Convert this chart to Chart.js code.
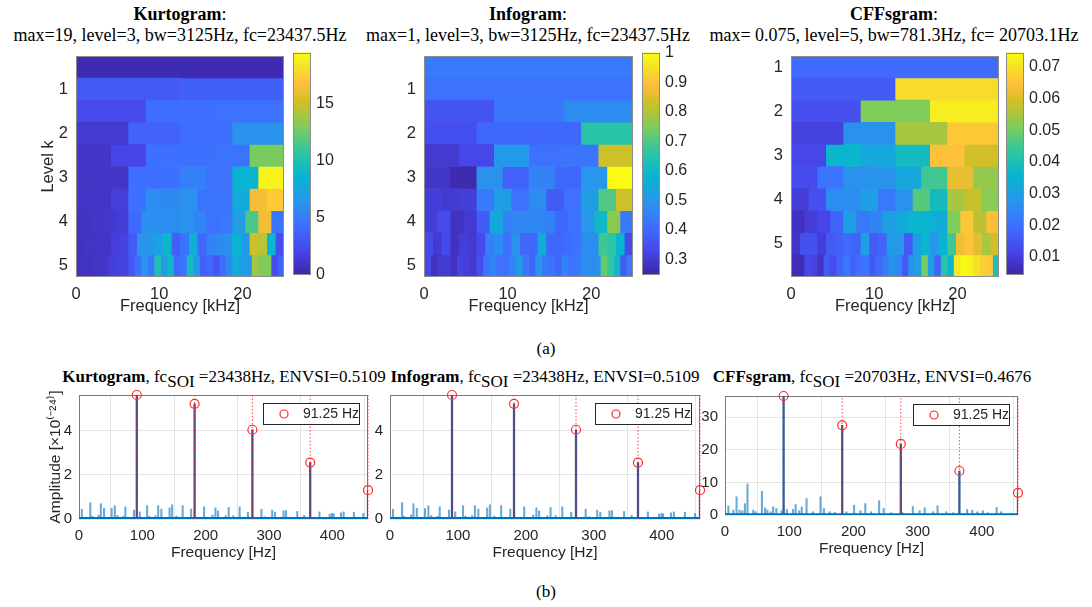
<!DOCTYPE html>
<html>
<head>
<meta charset="utf-8">
<script src="https://cdn.jsdelivr.net/npm/chart.js@4.4.0/dist/chart.umd.min.js"></script>
<style>
body { margin: 0; background: #fff; width: 1092px; height: 607px; position: relative; overflow: hidden; }
.cv { position: absolute; }
.ttl { position: absolute; font-family: "Liberation Serif", "Times New Roman", serif; color: #000;
       text-align: center; white-space: nowrap; transform: translateX(-50%); }
.sub { position: relative; top: 5px; }
</style>
</head>
<body>

<div class="ttl" style="left:180px;top:4px;font-size:18px;line-height:21px"><b>Kurtogram</b>:<br>max=19, level=3, bw=3125Hz, fc=23437.5Hz</div>
<div class="ttl" style="left:528px;top:4px;font-size:18px;line-height:21px"><b>Infogram</b>:<br>max=1, level=3, bw=3125Hz, fc=23437.5Hz</div>
<div class="ttl" style="left:894px;top:4px;font-size:18px;line-height:21px"><b>CFFsgram</b>:<br>max= 0.075, level=5, bw=781.3Hz, fc= 20703.1Hz</div>
<div class="ttl" style="left:546px;top:339px;font-size:17px">(a)</div>

<div class="ttl" style="left:224px;top:367px;font-size:17px"><b>Kurtogram</b>, fc<span class="sub">SOI</span> =23438Hz, ENVSI=0.5109</div>
<div class="ttl" style="left:545px;top:367px;font-size:17px"><b>Infogram</b>, fc<span class="sub">SOI</span> =23438Hz, ENVSI=0.5109</div>
<div class="ttl" style="left:872px;top:367px;font-size:17px"><b>CFFsgram</b>, fc<span class="sub">SOI</span> =20703Hz, ENVSI=0.4676</div>
<div class="ttl" style="left:546px;top:582px;font-size:17px">(b)</div>

<script>
// ---- (a) kurtogram-type maps: one array per row, bands split 0..25 kHz evenly ----
const freqMaxKHz = 25;
const freqTicksKHz = [0, 10, 20];
const kurtLevelTicks = ['', '1', '', '2', '', '3', '', '4', '', '5'];
const cffLevelTicks = ['1', '', '2', '', '3', '', '4', '', '5', ''];

const kurtValues = [
    [0.3],
    [3.2, 3.5],
    [2.3, 4.3, 4.5],
    [1.3, 3.7, 4.2, 6.3],
    [1.0, 2.0, 4.4, 4.4, 4.6, 12.8],
    [0.9, 1.0, 4.3, 4.4, 5.3, 4.5, 8.6, 19.0],
    [0.9, 1.0, 1.6, 4.4, 6.0, 5.8, 6.2, 4.6, 4.6, 7.9, 16.4, 17.2],
    [0.8, 1.0, 1.2, 1.5, 4.0, 6.1, 6.1, 6.0, 6.2, 5.6, 4.5, 4.8, 7.0, 11.5, 16.4, 4.6],
    [0.8, 0.9, 1.0, 1.0, 1.6, 1.9, 3.3, 6.3, 6.6, 7.3, 8.9, 3.5, 4.6, 8.3, 4.0, 5.2, 5.9, 6.1, 8.6, 6.8, 15.0, 14.5, 8.7, 2.5],
    [0.7, 0.8, 0.8, 0.9, 1.0, 1.6, 1.8, 1.9, 3.0, 4.4, 6.5, 4.8, 10.0, 7.0, 9.0, 4.0, 4.6, 9.4, 6.8, 3.5, 4.0, 3.0, 4.3, 5.9, 8.0, 7.2, 6.8, 14.0, 13.0, 13.0, 2.5, 3.6]
];
const kurtRange = [0, 19.5];
const kurtCbarTicks = [0, 5, 10, 15];

const infoValues = [
    [0.44],
    [0.42, 0.42],
    [0.36, 0.43, 0.48],
    [0.35, 0.40, 0.40, 0.65],
    [0.30, 0.33, 0.51, 0.42, 0.43, 0.83],
    [0.29, 0.26, 0.49, 0.39, 0.46, 0.40, 0.50, 1.0],
    [0.31, 0.30, 0.31, 0.44, 0.52, 0.42, 0.48, 0.38, 0.42, 0.52, 0.70, 0.83],
    [0.31, 0.34, 0.28, 0.30, 0.38, 0.55, 0.46, 0.47, 0.47, 0.46, 0.40, 0.42, 0.50, 0.60, 0.76, 0.44],
    [0.34, 0.30, 0.34, 0.28, 0.31, 0.30, 0.34, 0.45, 0.48, 0.42, 0.49, 0.40, 0.40, 0.55, 0.40, 0.40, 0.41, 0.43, 0.48, 0.48, 0.68, 0.66, 0.58, 0.34],
    [0.33, 0.28, 0.30, 0.30, 0.28, 0.32, 0.31, 0.30, 0.35, 0.42, 0.46, 0.42, 0.42, 0.46, 0.52, 0.44, 0.40, 0.50, 0.44, 0.42, 0.40, 0.46, 0.42, 0.44, 0.48, 0.48, 0.49, 0.72, 0.67, 0.60, 0.38, 0.44]
];
const infoRange = [0.25, 1.0];
const infoCbarTicks = [0.3, 0.4, 0.5, 0.6, 0.7, 0.8, 0.9, 1];

const cffValues = [
    [0.019],
    [0.016, 0.069],
    [0.014, 0.051, 0.072],
    [0.011, 0.027, 0.055, 0.066],
    [0.012, 0.036, 0.032, 0.038, 0.065, 0.059],
    [0.013, 0.021, 0.027, 0.027, 0.032, 0.045, 0.062, 0.053],
    [0.010, 0.014, 0.026, 0.026, 0.030, 0.022, 0.027, 0.047, 0.038, 0.055, 0.058, 0.052],
    [0.007, 0.010, 0.012, 0.018, 0.030, 0.022, 0.024, 0.030, 0.033, 0.036, 0.035, 0.033, 0.051, 0.066, 0.057, 0.064],
    [0.008, 0.014, 0.014, 0.010, 0.016, 0.017, 0.019, 0.018, 0.030, 0.016, 0.018, 0.029, 0.028, 0.016, 0.030, 0.036, 0.028, 0.035, 0.045, 0.063, 0.065, 0.061, 0.055, 0.059],
    [0.006, 0.006, 0.012, 0.011, 0.008, 0.016, 0.013, 0.018, 0.022, 0.018, 0.020, 0.021, 0.016, 0.019, 0.023, 0.027, 0.025, 0.016, 0.027, 0.030, 0.050, 0.030, 0.018, 0.042, 0.036, 0.071, 0.0745, 0.073, 0.070, 0.067, 0.066, 0.040]
];
const cffRange = [0.0045, 0.0745];
const cffCbarTicks = [0.01, 0.02, 0.03, 0.04, 0.05, 0.06, 0.07];

// ---- (b) envelope spectra ----
const harmFreq = [91.25, 182.5, 273.75, 365, 456.25];
const kurtHarmAmp = [5.6, 5.2, 4.03, 2.55, 1.3];
const cffHarmAmp = [36.5, 27.5, 21.8, 13.5, 6.8];

const kurtSpecFreq = [4.5, 17.8, 21, 31, 34.5, 39.5, 51.5, 56.5, 60.7, 70, 73.2, 86.8, 96, 107.5, 111, 120.8, 125, 130, 143, 147, 153.7, 163.6, 177,
    197.5, 210.7, 215.4, 219.5, 231.6, 236.3, 243.7, 253.6, 266.7, 288, 293, 305, 309.5, 323, 326.8, 344.6, 355.6, 379.6, 395.8, 399.5, 402, 413.6, 417.8, 434, 449];
const kurtSpecAmp = [0.44, 0.74, 0.13, 0.18, 0.69, 0.48, 0.48, 0.6, 0.16, 0.13, 0.55, 0.4, 0.32, 0.6, 0.13, 0.15, 0.6, 0.45, 0.5, 0.64, 0.13, 0.6, 0.45,
    0.55, 0.18, 0.5, 0.36, 0.15, 0.52, 0.15, 0.55, 0.3, 0.44, 0.1, 0.4, 0.31, 0.37, 0.38, 0.34, 0.16, 0.32, 0.22, 0.25, 0.23, 0.28, 0.32, 0.31, 0.25];

const cffSpecFreq = [5.2, 13, 18, 22.7, 27, 31, 35, 44, 47.7, 57.5, 62.5, 66, 71, 75, 80, 88, 96.4, 106, 110, 115.5, 119.5, 127, 137, 148.7, 154, 163, 171,
    189, 201, 211, 218.5, 227.5, 240, 247, 259, 277, 292.5, 303, 311, 324, 331, 344.5, 355, 377, 385, 393, 401.5, 409, 423, 430, 445.6];
const cffSpecAmp = [2.8, 1.5, 5.6, 1.5, 1.3, 3.5, 9.5, 1.5, 1.0, 7.3, 2.2, 1.5, 1.0, 2.5, 2.0, 1.3, 1.7, 1.7, 3.2, 1.3, 2.5, 5.0, 1.0, 5.6, 2.0, 1.0, 0.8,
    1.0, 3.0, 1.3, 3.5, 1.0, 4.4, 2.0, 0.7, 0.7, 2.6, 1.3, 2.2, 1.0, 2.8, 1.0, 0.7, 1.7, 1.5, 1.0, 1.3, 0.7, 2.3, 1.0, 0.5];

const specFreqTicks = [0, 100, 200, 300, 400];
const kurtAmpTicks = [0, 2, 4];
const cffAmpTicks = [0, 10, 20, 30];

// ---- look ----
Chart.defaults.font.family = '"Liberation Sans", Arial, sans-serif';
Chart.defaults.color = '#262626';
const AXIS_GREY = '#8c8c8c';

const parulaStops = [
    [0.000, [62, 38, 168]], [0.111, [71, 71, 235]], [0.222, [62, 111, 255]], [0.333, [39, 150, 235]],
    [0.444, [8, 181, 208]], [0.556, [49, 198, 159]], [0.667, [129, 204, 89]], [0.778, [209, 191, 39]],
    [0.857, [254, 190, 60]], [0.937, [245, 227, 39]], [1.000, [249, 251, 21]]
];

function parula(t) {
    t = Math.max(0, Math.min(1, t));
    for (let i = 1; i < parulaStops.length; i++) {
        if (t <= parulaStops[i][0]) {
            const [t0, c0] = parulaStops[i - 1];
            const [t1, c1] = parulaStops[i];
            const f = (t - t0) / (t1 - t0);
            return 'rgb(' + c0.map((c, k) => Math.round(c + (c1[k] - c) * f)).join(',') + ')';
        }
    }
    return 'rgb(249,251,21)';
}

function place(left, top, width, height) {
    const c = document.createElement('canvas');
    c.className = 'cv';
    c.width = width; c.height = height;
    c.style.left = left + 'px'; c.style.top = top + 'px';
    document.body.appendChild(c);
    return c;
}

const framePlugin = {
    id: 'frame',
    beforeDatasetsDraw(chart, args, opts) { if (opts.under) drawFrame(chart, opts); },
    afterDraw(chart, args, opts) { if (!opts.under) drawFrame(chart, opts); }
};
function drawFrame(chart, opts) {
    const a = chart.chartArea, ctx = chart.ctx;
    ctx.save();
    ctx.strokeStyle = opts.color || AXIS_GREY;
    ctx.lineWidth = 1;
    ctx.strokeRect(Math.round(a.left) + 0.5, Math.round(a.top) + 0.5, Math.round(a.right - a.left) - 1, Math.round(a.bottom - a.top) - 1);
    ctx.restore();
}

const gradientPlugin = {
    id: 'cbar',
    beforeDatasetsDraw(chart) {
        const a = chart.chartArea, ctx = chart.ctx;
        const g = ctx.createLinearGradient(0, a.bottom, 0, a.top);
        parulaStops.forEach(s => g.addColorStop(s[0], 'rgb(' + s[1].join(',') + ')'));
        ctx.save();
        ctx.fillStyle = g;
        ctx.fillRect(a.left, a.top, a.right - a.left, a.bottom - a.top);
        ctx.restore();
    }
};

const legendBox = {
    id: 'legendBox',
    afterDraw(chart) {
        const ds = chart.data.datasets.find(d => d.label === '91.25 Hz');
        const a = chart.chartArea, ctx = chart.ctx;
        const w = 96, h = 21, x = Math.round(a.right - 9 - w), y = Math.round(a.top + 8);
        ctx.save();
        ctx.fillStyle = '#fff';
        ctx.fillRect(x, y, w, h);
        ctx.strokeStyle = '#262626';
        ctx.lineWidth = 1;
        ctx.strokeRect(x + 0.5, y + 0.5, w, h);
        ctx.beginPath();
        ctx.arc(x + 21, y + h / 2 + 0.5, 4, 0, 2 * Math.PI);
        ctx.strokeStyle = ds.borderColor;
        ctx.lineWidth = 1.2;
        ctx.stroke();
        ctx.fillStyle = '#262626';
        ctx.font = '14px "Liberation Sans", Arial, sans-serif';
        ctx.textBaseline = 'middle';
        ctx.fillText(ds.label, x + 40, y + h / 2 + 1);
        ctx.restore();
    }
};

function setTicks(list) {
    return scale => { scale.ticks = list.map(v => ({ value: v })); };
}

// area = chart area in page pixels [left, top, right, bottom]
function heatmap(area, rows, range, levelTicks, yTitle) {
    const yw = yTitle ? 41 : 24, pt = 12, pr = 4, xh = 43;
    const [L, T, R, B] = area;
    const canvas = place(L - yw, T - pt, R - L + yw + pr, B - T + pt + xh);
    const nMax = Math.max(...rows.map(r => r.length));
    const datasets = [];
    for (let j = 0; j < nMax; j++) {
        datasets.push({
            data: rows.map(r => j < r.length ? [j * freqMaxKHz / r.length, (j + 1) * freqMaxKHz / r.length] : null),
            backgroundColor: rows.map(r => j < r.length ? parula((r[j] - range[0]) / (range[1] - range[0])) : 'rgba(0,0,0,0)'),
            borderWidth: 0,
            barPercentage: 1,
            categoryPercentage: 1,
            grouped: false
        });
    }
    new Chart(canvas, {
        type: 'bar',
        data: { labels: levelTicks, datasets: datasets },
        options: {
            indexAxis: 'y', responsive: false, animation: false, events: [],
            layout: { padding: { top: pt, right: pr, left: 0, bottom: 0 } },
            plugins: { legend: { display: false }, tooltip: { enabled: false }, frame: { color: AXIS_GREY } },
            scales: {
                x: {
                    type: 'linear', min: 0, max: freqMaxKHz,
                    afterBuildTicks: setTicks(freqTicksKHz),
                    afterFit: s => { s.height = xh; },
                    grid: { display: false, drawTicks: false },
                    border: { display: false },
                    ticks: { font: { size: 16.5 }, padding: 8 },
                    title: { display: true, text: 'Frequency [kHz]', font: { size: 16.5 } }
                },
                y: {
                    afterFit: s => { s.width = yw; },
                    grid: { display: false, drawTicks: false },
                    border: { display: false },
                    ticks: { font: { size: 16.5 }, padding: 8, autoSkip: false },
                    title: { display: !!yTitle, text: yTitle || '', font: { size: 16.5 } }
                }
            }
        },
        plugins: [framePlugin]
    });
}

function colorbar(area, range, ticks) {
    const [L, T, R, B] = area;
    const yw = 48, pad = 12;
    const canvas = place(L, T - pad, R - L + yw, B - T + 2 * pad);
    new Chart(canvas, {
        type: 'scatter',
        data: { datasets: [] },
        options: {
            responsive: false, animation: false, events: [],
            layout: { padding: { top: pad, bottom: pad, left: 0, right: 0 } },
            plugins: { legend: { display: false }, tooltip: { enabled: false }, frame: { color: AXIS_GREY } },
            scales: {
                x: { display: false },
                y: {
                    position: 'right', min: range[0], max: range[1],
                    afterBuildTicks: setTicks(ticks),
                    afterFit: s => { s.width = yw; },
                    grid: { display: false, drawTicks: false },
                    border: { display: false },
                    ticks: { font: { size: 16 }, padding: 5, callback: v => String(v) }
                }
            }
        },
        plugins: [gradientPlugin, framePlugin]
    });
}

function spectrum(area, freqs, amps, harmAmps, yMax, yTicks, floorLevel, yTitle) {
    const [L, T, R, B] = area;
    const yw = yTitle ? 37 : 26, pt = 12, pr = 12, xh = 47;
    const canvas = place(L - yw, T - pt, R - L + yw + pr, B - T + pt + xh);
    const guides = [];
    harmFreq.forEach(f => { guides.push({ x: f, y: 0 }, { x: f, y: yMax }, { x: f, y: null }); });
    new Chart(canvas, {
        type: 'bar',
        data: {
            datasets: [
                {
                    type: 'line', label: 'floor',
                    data: [{ x: 0, y: floorLevel }, { x: harmFreq[harmFreq.length - 1], y: floorLevel }],
                    borderColor: '#0072bd', borderWidth: 2, pointRadius: 0, order: 4
                },
                {
                    type: 'bar', label: 'spectrum',
                    data: freqs.map((f, i) => ({ x: f, y: amps[i] })),
                    backgroundColor: 'rgba(0,114,189,0.6)', barThickness: 1.4, grouped: false, order: 3
                },
                {
                    type: 'bar', label: 'harmonics',
                    data: harmFreq.map((f, i) => ({ x: f, y: harmAmps[i] })),
                    backgroundColor: '#2a5599', barThickness: 1.6, grouped: false, order: 2
                },
                {
                    type: 'line', label: 'guides', data: guides,
                    borderColor: 'rgba(255,40,40,0.85)', borderWidth: 1, borderDash: [1.5, 2],
                    pointRadius: 0, spanGaps: false, clip: false, order: 1
                },
                {
                    type: 'scatter', label: '91.25 Hz',
                    data: harmFreq.map((f, i) => ({ x: f, y: harmAmps[i] })),
                    pointStyle: 'circle', pointRadius: 4.5, borderColor: '#ff2a2a', backgroundColor: 'rgba(0,0,0,0)',
                    borderWidth: 1.2, clip: false, order: 0
                }
            ]
        },
        options: {
            responsive: false, animation: false, events: [],
            layout: { padding: { top: pt, right: pr, left: 0, bottom: 0 } },
            plugins: { legend: { display: false }, tooltip: { enabled: false }, frame: { color: '#7a7a7a', under: true } },
            scales: {
                x: {
                    type: 'linear', min: 0, max: harmFreq[harmFreq.length - 1], offset: false,
                    afterBuildTicks: setTicks(specFreqTicks),
                    afterFit: s => { s.height = xh; },
                    grid: { color: '#e4e4e4', drawTicks: false },
                    border: { display: false },
                    ticks: { font: { size: 15 }, padding: 8 },
                    title: { display: true, text: 'Frequency [Hz]', font: { size: 15.5 } }
                },
                y: {
                    min: 0, max: yMax,
                    afterBuildTicks: setTicks(yTicks),
                    afterFit: s => { s.width = yw; },
                    grid: { color: '#e4e4e4', drawTicks: false },
                    border: { display: false },
                    ticks: { font: { size: 15 }, padding: 7 },
                    title: { display: !!yTitle, text: yTitle || '', font: { size: 15.5 } }
                }
            }
        },
        plugins: [framePlugin, legendBox]
    });
}

heatmap([76, 50, 284, 277], kurtValues, kurtRange, kurtLevelTicks, 'Level k');
colorbar([293, 50, 311, 277], kurtRange, kurtCbarTicks);
heatmap([424, 50, 633, 277], infoValues, infoRange, kurtLevelTicks, null);
colorbar([642, 50, 660, 277], infoRange, infoCbarTicks);
heatmap([791, 50, 999, 277], cffValues, cffRange, cffLevelTicks, null);
colorbar([1006, 50, 1024, 277], cffRange, cffCbarTicks);

spectrum([79, 391, 368, 519], kurtSpecFreq, kurtSpecAmp, kurtHarmAmp, 5.6, kurtAmpTicks, 0.04, 'Amplitude [×10⁽⁻²⁴⁾]');
spectrum([390, 391, 700, 519], kurtSpecFreq, kurtSpecAmp, kurtHarmAmp, 5.6, kurtAmpTicks, 0.04, null);
spectrum([725, 392, 1018, 515], cffSpecFreq, cffSpecAmp, cffHarmAmp, 36.5, cffAmpTicks, 0.25, null);
</script>
</body>
</html>
